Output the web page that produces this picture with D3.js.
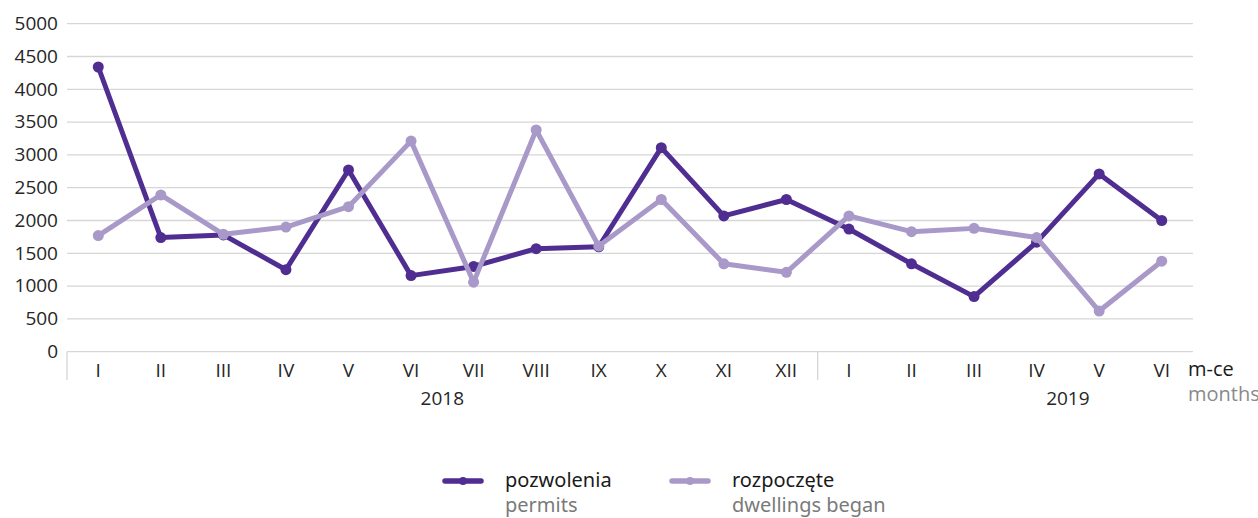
<!DOCTYPE html>
<html>
<head>
<meta charset="utf-8">
<script src="https://cdn.jsdelivr.net/npm/d3@7"></script>
<style>
  body { margin: 0; background: #fff; }
</style>
</head>
<body>
<script>
const months = ['I', 'II', 'III', 'IV', 'V', 'VI', 'VII', 'VIII', 'IX', 'X', 'XI', 'XII',
  'I', 'II', 'III', 'IV', 'V', 'VI']
const years = ['2018', '2019']
const permits = [4340, 1740, 1780, 1250, 2770, 1160, 1300, 1570, 1600, 3110, 2070, 2320,
  1870, 1340, 840, 1670, 2710, 2000]
const dwellingsBegan = [1770, 2390, 1790, 1900, 2210, 3210, 1060, 3380, 1610, 2320, 1340, 1210,
  2070, 1830, 1880, 1740, 620, 1380]
const yTicks = [0, 500, 1000, 1500, 2000, 2500, 3000, 3500, 4000, 4500, 5000]

const width = 1258
const height = 518
const plotLeft = 67
const plotRight = 1193
const plotTop = 23.7
const plotBottom = 351.7
const darkColor = '#4f2d91'
const lightColor = '#a899c9'
const axisFont = '19px "Open Sans", sans-serif'

const svg = d3.select('body')
  .append('svg')
  .attr('width', width)
  .attr('height', height)

const keys = months.map((_, i) => i)
const x = d3.scaleBand().domain(keys).range([plotLeft, plotRight])
const y = d3.scaleLinear().domain([0, 5000]).range([plotBottom, plotTop])

// gridlines + y labels
svg.append('g')
  .selectAll('line')
  .data(yTicks)
  .join('line')
  .attr('x1', plotLeft)
  .attr('x2', plotRight)
  .attr('y1', (d) => y(d))
  .attr('y2', (d) => y(d))
  .attr('stroke', '#d6d6d6')
  .attr('stroke-width', 1.3)

svg.append('g')
  .selectAll('text')
  .data(yTicks)
  .join('text')
  .attr('x', 58)
  .attr('y', (d) => y(d))
  .attr('dy', '0.33em')
  .attr('text-anchor', 'end')
  .style('font', axisFont)
  .attr('fill', '#262626')
  .text((d) => d)

// x axis separators
const seps = [0, 12]
svg.append('g')
  .selectAll('line')
  .data(seps)
  .join('line')
  .attr('x1', (d) => x(d))
  .attr('x2', (d) => x(d))
  .attr('y1', plotBottom)
  .attr('y2', 380)
  .attr('stroke', '#d6d6d6')
  .attr('stroke-width', 1.3)

svg.append('g')
  .selectAll('text')
  .data(keys)
  .join('text')
  .attr('x', (d) => x(d) + x.bandwidth() / 2)
  .attr('y', 370)
  .attr('dy', '0.35em')
  .attr('text-anchor', 'middle')
  .style('font', axisFont)
  .attr('fill', '#262626')
  .text((d) => months[d])

// year labels
const yearPos = [6, 16]
svg.append('g')
  .selectAll('text')
  .data(years)
  .join('text')
  .attr('x', (d, i) => x(yearPos[i]))
  .attr('y', 398)
  .attr('dy', '0.35em')
  .attr('text-anchor', 'middle')
  .style('font', axisFont)
  .attr('fill', '#262626')
  .text((d) => d)

svg.append('text')
  .attr('x', 1188)
  .attr('y', 369)
  .attr('dy', '0.35em')
  .style('font', '20px "Open Sans", sans-serif')
  .attr('fill', '#1a1a1a')
  .text('m-ce')

svg.append('text')
  .attr('x', 1188)
  .attr('y', 394)
  .attr('dy', '0.35em')
  .style('font', '20px "Open Sans", sans-serif')
  .attr('fill', '#8a8a8a')
  .text('months')

// series
const line = d3.line()
  .x((d, i) => x(i) + x.bandwidth() / 2)
  .y((d) => y(d))

const series = [
  { values: permits, color: darkColor },
  { values: dwellingsBegan, color: lightColor }
]

series.forEach((s) => {
  const g = svg.append('g')
  g.append('path')
    .datum(s.values)
    .attr('d', line)
    .attr('fill', 'none')
    .attr('stroke', s.color)
    .attr('stroke-width', 5)
    .attr('stroke-linejoin', 'round')
  g.selectAll('circle')
    .data(s.values)
    .join('circle')
    .attr('cx', (d, i) => x(i) + x.bandwidth() / 2)
    .attr('cy', (d) => y(d))
    .attr('r', 5.5)
    .attr('fill', s.color)
})

// legend
const legendItems = [
  { pl: 'pozwolenia', en: 'permits', color: darkColor, x: 443 },
  { pl: 'rozpoczęte', en: 'dwellings began', color: lightColor, x: 670 }
]

const legend = svg.append('g')
legendItems.forEach((d) => {
  legend.append('line')
    .attr('x1', d.x + 2)
    .attr('x2', d.x + 38)
    .attr('y1', 481)
    .attr('y2', 481)
    .attr('stroke', d.color)
    .attr('stroke-width', 5.5)
    .attr('stroke-linecap', 'round')
  legend.append('circle')
    .attr('cx', d.x + 20)
    .attr('cy', 481)
    .attr('r', 4)
    .attr('fill', d.color)
  legend.append('text')
    .attr('x', d.x + 62)
    .attr('y', 487)
    .style('font', '20px "Noto Sans", sans-serif')
    .attr('fill', '#1a1a1a')
    .text(d.pl)
  legend.append('text')
    .attr('x', d.x + 62)
    .attr('y', 512)
    .style('font', '20px "Noto Sans", sans-serif')
    .attr('fill', '#7a7a7a')
    .text(d.en)
})
</script>
</body>
</html>
